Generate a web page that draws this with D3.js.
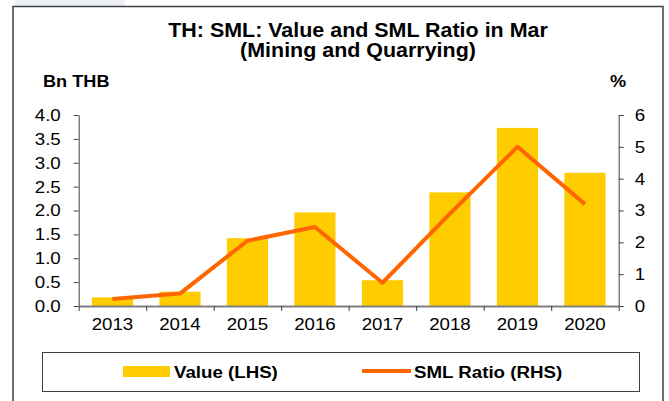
<!DOCTYPE html>
<html>
<head>
<meta charset="utf-8">
<script src="https://cdn.jsdelivr.net/npm/d3@7"></script>
<style>
  body { margin: 0; background: #fff; }
  text { font-family: "Liberation Sans", Arial, sans-serif; fill: #000; }
</style>
</head>
<body>
<div id="chart"></div>
<script>
// data
var years = ["2013", "2014", "2015", "2016", "2017", "2018", "2019", "2020"];
var values = [0.18, 0.30, 1.42, 1.96, 0.54, 2.38, 3.73, 2.79];   // Bn THB (LHS)
var ratios = [0.22, 0.39, 2.05, 2.48, 0.73, 2.90, 5.00, 3.20];   // % (RHS)
var leftTicks = [0, 0.5, 1, 1.5, 2, 2.5, 3, 3.5, 4];
var rightTicks = [0, 1, 2, 3, 4, 5, 6];

var width = 669, height = 401;
var barColor = "#FFCC00", lineColor = "#FF6600";
// the picture is a little wider than tall, text looks stretched sideways
var stretch = 1.1;

var svg = d3.select("#chart").append("svg")
    .attr("width", width).attr("height", height);

// faint shade above the frame, top left
svg.append("rect")
    .attr("x", 15).attr("y", 0).attr("width", 110).attr("height", 6)
    .attr("fill", "#eef0f8");

// outer frame
svg.append("rect")
    .attr("x", 13).attr("y", 6.5).attr("width", 650).attr("height", 420)
    .attr("fill", "none").attr("stroke", "#404040").attr("stroke-width", 1.5);

function label(x, y, str, size, weight, anchor) {
    return svg.append("text")
        .attr("transform", "translate(" + x + "," + y + ") scale(" + stretch + ",1)")
        .attr("font-size", size).attr("font-weight", weight || "normal")
        .attr("text-anchor", anchor || "start")
        .text(str);
}

//Title.
label(358, 37, "TH: SML: Value and SML Ratio in Mar", 19.5, "bold", "middle");
label(358, 57, "(Mining and Quarrying)", 19.5, "bold", "middle");
label(43, 87, "Bn THB", 16.5, "bold");
label(610, 87, "%", 16.5, "bold");

//Scales.
var plotLeft = 78.7, plotRight = 618.7, plotBottom = 306, plotTop = 115;
var x = d3.scaleBand().domain(years).range([plotLeft, plotRight])
    .paddingInner(0.39).paddingOuter(0.195);
var yL = d3.scaleLinear().domain([0, 4]).range([plotBottom, plotTop]);
var yR = d3.scaleLinear().domain([0, 6]).range([plotBottom, plotTop]);

//Bars.
svg.selectAll("rect.bar").data(values).enter().append("rect")
    .attr("class", "bar")
    .attr("fill", barColor)
    .attr("x", function (d, i) { return x(years[i]); })
    .attr("y", function (d) { return yL(d); })
    .attr("width", x.bandwidth())
    .attr("height", function (d) { return yL(0) - yL(d); });

//Axes.
function fixText(g, size) {
    g.selectAll("text")
        .attr("font-size", size)
        .attr("font-family", "'Liberation Sans', Arial, sans-serif")
        .attr("fill", "#000")
        .attr("transform", "scale(" + stretch + ",1)")
        .attr("x", function () { return +d3.select(this).attr("x") / stretch; });
}

var gL = svg.append("g").attr("transform", "translate(" + plotLeft + ",0)")
    .call(d3.axisLeft(yL).tickValues(leftTicks).tickFormat(d3.format(".1f"))
        .tickSize(5).tickSizeOuter(0).tickPadding(13));
gL.selectAll("path, line").attr("stroke", "#404040");
fixText(gL, 17);

var gR = svg.append("g").attr("transform", "translate(" + plotRight + ",0)")
    .call(d3.axisRight(yR).tickValues(rightTicks).tickFormat(d3.format("d"))
        .tickSize(5).tickSizeOuter(0).tickPadding(11));
gR.selectAll("path, line").attr("stroke", "#404040");
fixText(gR, 17);

// ticks sit between the categories
var xEdge = d3.scaleLinear().domain([0, years.length]).range([plotLeft, plotRight]);
var gB = svg.append("g").attr("transform", "translate(0," + plotBottom + ")")
    .call(d3.axisBottom(xEdge).tickValues(d3.range(0, years.length + 1))
        .tickFormat("").tickSize(5).tickSizeOuter(0));
gB.selectAll("line").attr("stroke", "#404040");
gB.select("path").attr("stroke", "#808080").attr("stroke-width", 2);

var gX = svg.append("g").attr("transform", "translate(0," + plotBottom + ")")
    .call(d3.axisBottom(x).tickSize(0).tickPadding(12));
gX.select("path").remove();
fixText(gX, 17);

//Line.
var line = d3.line()
    .x(function (d, i) { return x(years[i]) + x.bandwidth() / 2; })
    .y(function (d) { return yR(d); });
svg.append("path").datum(ratios)
    .attr("fill", "none").attr("stroke", lineColor).attr("stroke-width", 4)
    .attr("stroke-linejoin", "round")
    .attr("d", line);

//Legend.
svg.append("rect")
    .attr("x", 42.5).attr("y", 352.5).attr("width", 597).attr("height", 39)
    .attr("fill", "#fff").attr("stroke", "#404040").attr("stroke-width", 1);
svg.append("rect")
    .attr("x", 123).attr("y", 366).attr("width", 47).attr("height", 11)
    .attr("fill", barColor);
label(174, 378, "Value (LHS)", 17, "bold");
svg.append("line")
    .attr("x1", 362).attr("x2", 411).attr("y1", 371).attr("y2", 371)
    .attr("stroke", lineColor).attr("stroke-width", 4);
label(414, 378, "SML Ratio (RHS)", 17, "bold");
</script>
</body>
</html>
